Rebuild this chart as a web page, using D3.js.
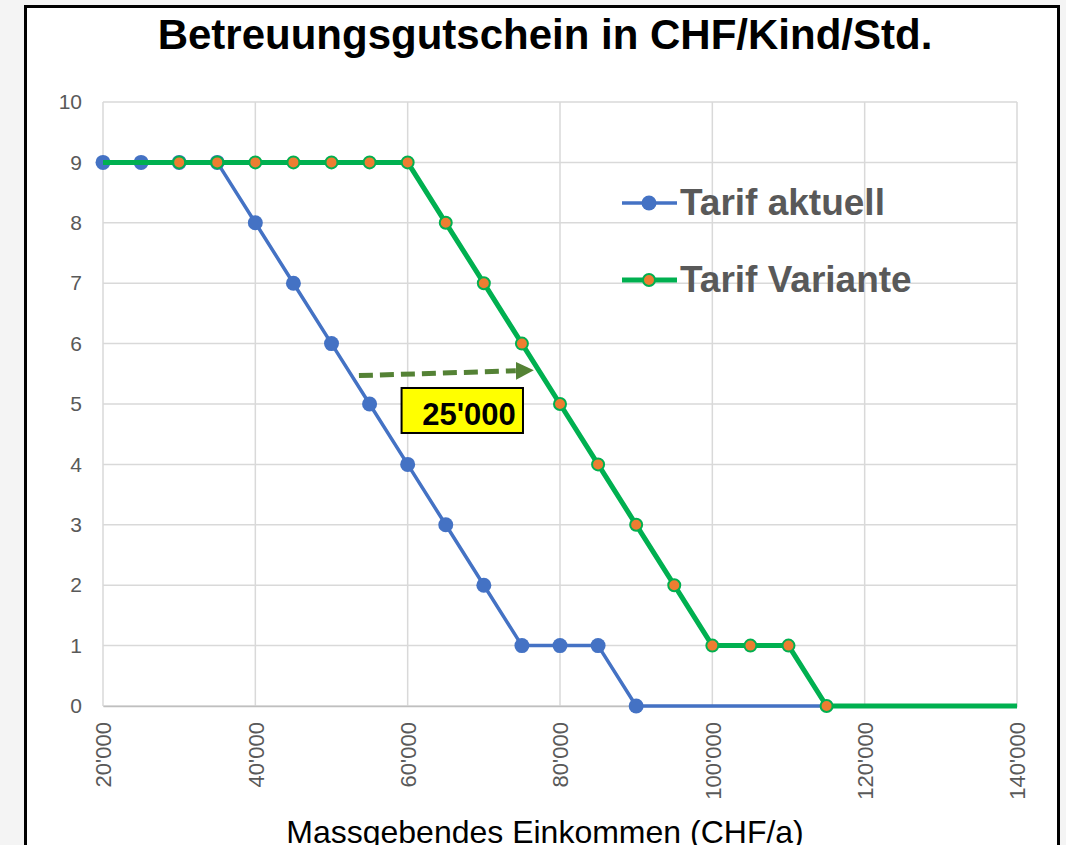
<!DOCTYPE html>
<html>
<head>
<meta charset="utf-8">
<script src="https://cdn.jsdelivr.net/npm/d3@7"></script>
<style>
  body { margin: 0; background: #f4f4f4; font-family: Arial, "Liberation Sans", sans-serif; }
</style>
</head>
<body>
<script>
// data
var incomes = [20000, 25000, 30000, 35000, 40000, 45000, 50000, 55000, 60000, 65000,
               70000, 75000, 80000, 85000, 90000, 95000, 100000, 105000, 110000, 115000, 140000];
var aktuell = [9, 9, 9, 9, 8, 7, 6, 5, 4, 3, 2, 1, 1, 1, 0, 0, 0, 0, 0, 0, null];
var variante = [9, 9, 9, 9, 9, 9, 9, 9, 9, 8, 7, 6, 5, 4, 3, 2, 1, 1, 1, 0, 0];
// which points carry a marker
var aktuellMarkers = [1, 1, 1, 1, 1, 1, 1, 1, 1, 1, 1, 1, 1, 1, 1, 0, 0, 0, 0, 0, 0];
var varianteMarkers = [0, 0, 1, 1, 1, 1, 1, 1, 1, 1, 1, 1, 1, 1, 1, 1, 1, 1, 1, 1, 0];
var xTicks = [20000, 40000, 60000, 80000, 100000, 120000, 140000];
var yTicks = [0, 1, 2, 3, 4, 5, 6, 7, 8, 9, 10];
var seriesNames = ["Tarif aktuell", "Tarif Variante"];
var shiftLabel = "25'000";

var W = 1066, H = 845;
var svg = d3.select("body").append("svg")
    .attr("width", W)
    .attr("height", H);

// chart frame
svg.append("rect")
    .attr("x", 25.5).attr("y", 6.5)
    .attr("width", 1033).attr("height", 860)
    .attr("fill", "#fff")
    .attr("stroke", "#000")
    .attr("stroke-width", 3);

var x = d3.scaleLinear().domain([20000, 140000]).range([103, 1017]);
var y = d3.scaleLinear().domain([0, 10]).range([706, 102]);

var fmt = function (d) { return d3.format(",")(d).replace(/,/g, "'"); };

// grid
svg.append("g").selectAll("line.h")
    .data(yTicks).enter().append("line")
    .attr("x1", x(20000)).attr("x2", x(140000))
    .attr("y1", function (d) { return y(d); })
    .attr("y2", function (d) { return y(d); })
    .attr("stroke", "#d9d9d9").attr("stroke-width", 1.5);

svg.append("g").selectAll("line.v")
    .data(xTicks).enter().append("line")
    .attr("x1", function (d) { return x(d); })
    .attr("x2", function (d) { return x(d); })
    .attr("y1", y(10)).attr("y2", y(0))
    .attr("stroke", "#d9d9d9").attr("stroke-width", 1.5);

// axes
var yAxis = svg.append("g")
    .attr("transform", "translate(" + x(20000) + ",0)")
    .call(d3.axisLeft(y).tickValues(yTicks).tickSize(0).tickPadding(21));
yAxis.select(".domain").remove();
yAxis.selectAll("text")
    .attr("font-size", 21).attr("fill", "#595959")
    .attr("font-family", "Arial, 'Liberation Sans', sans-serif");

var xAxis = svg.append("g")
    .attr("transform", "translate(0," + y(0) + ")")
    .call(d3.axisBottom(x).tickValues(xTicks).tickFormat(fmt).tickSize(0));
xAxis.select(".domain").attr("stroke", "#bfbfbf").attr("stroke-width", 1.5);
xAxis.selectAll("text")
    .attr("font-size", 22).attr("fill", "#595959")
    .attr("font-family", "Arial, 'Liberation Sans', sans-serif")
    .attr("text-anchor", "end")
    .attr("dy", "0.35em")
    .attr("transform", "translate(0,16) rotate(-90)")
    .attr("y", 0).attr("x", 0);

// lines
var line = d3.line()
    .defined(function (d) { return d[1] != null; })
    .x(function (d) { return x(d[0]); })
    .y(function (d) { return y(d[1]); });

var aData = incomes.map(function (d, i) { return [d, aktuell[i], aktuellMarkers[i]]; });
var vData = incomes.map(function (d, i) { return [d, variante[i], varianteMarkers[i]]; });

svg.append("path").datum(aData)
    .attr("d", line).attr("fill", "none")
    .attr("stroke", "#4472C4").attr("stroke-width", 3.5)
    .attr("stroke-linejoin", "round");

svg.append("g").selectAll("circle")
    .data(aData.filter(function (d) { return d[2]; }))
    .enter().append("circle")
    .attr("cx", function (d) { return x(d[0]); })
    .attr("cy", function (d) { return y(d[1]); })
    .attr("r", 7.5)
    .attr("fill", "#4472C4");

svg.append("path").datum(vData)
    .attr("d", line).attr("fill", "none")
    .attr("stroke", "#00B050").attr("stroke-width", 5)
    .attr("stroke-linejoin", "round");

svg.append("g").selectAll("circle")
    .data(vData.filter(function (d) { return d[2]; }))
    .enter().append("circle")
    .attr("cx", function (d) { return x(d[0]); })
    .attr("cy", function (d) { return y(d[1]); })
    .attr("r", 6)
    .attr("fill", "#ED7D31")
    .attr("stroke", "#00B050").attr("stroke-width", 2);

// shift arrow + label
svg.append("defs").append("marker")
    .attr("id", "arrow")
    .attr("viewBox", "0 0 10 10")
    .attr("refX", 0).attr("refY", 5)
    .attr("markerWidth", 3.6).attr("markerHeight", 3.6)
    .attr("markerUnits", "strokeWidth")
    .attr("orient", "auto")
    .append("path").attr("d", "M0,0L10,5L0,10Z").attr("fill", "#548235");

svg.append("line")
    .attr("x1", x(53600)).attr("y1", y(5.47))
    .attr("x2", x(74200)).attr("y2", y(5.55))
    .attr("stroke", "#548235").attr("stroke-width", 5)
    .attr("stroke-dasharray", "14,7")
    .attr("marker-end", "url(#arrow)");

svg.append("rect")
    .attr("x", x(59200)).attr("y", y(5.265))
    .attr("width", x(75140) - x(59200)).attr("height", y(4.52) - y(5.265))
    .attr("fill", "#ffff00").attr("stroke", "#000").attr("stroke-width", 2);

svg.append("text")
    .attr("x", x(74200)).attr("y", y(4.66))
    .attr("text-anchor", "end")
    .attr("font-size", 31).attr("font-weight", "bold")
    .text(shiftLabel);

// legend
var legend = svg.append("g").selectAll("g")
    .data(seriesNames).enter().append("g")
    .attr("transform", function (d, i) { return "translate(622," + (203 + i * 77) + ")"; });

legend.append("line")
    .attr("x1", 0).attr("x2", 55)
    .attr("stroke", function (d, i) { return i ? "#00B050" : "#4472C4"; })
    .attr("stroke-width", function (d, i) { return i ? 5 : 3.5; });

legend.append("circle")
    .attr("cx", 27).attr("r", function (d, i) { return i ? 6 : 7.5; })
    .attr("fill", function (d, i) { return i ? "#ED7D31" : "#4472C4"; })
    .attr("stroke", function (d, i) { return i ? "#00B050" : "none"; })
    .attr("stroke-width", 2);

legend.append("text")
    .attr("x", 58).attr("y", 12)
    .attr("font-size", 37).attr("font-weight", "bold")
    .attr("fill", "#595959")
    .text(function (d) { return d; });

// titles
svg.append("text")
    .attr("x", 545).attr("y", 49)
    .attr("text-anchor", "middle")
    .attr("font-size", 42).attr("font-weight", "bold")
    .text("Betreuungsgutschein in CHF/Kind/Std.");

svg.append("text")
    .attr("x", 545).attr("y", 843)
    .attr("text-anchor", "middle")
    .attr("font-size", 32)
    .text("Massgebendes Einkommen (CHF/a)");
</script>
</body>
</html>
